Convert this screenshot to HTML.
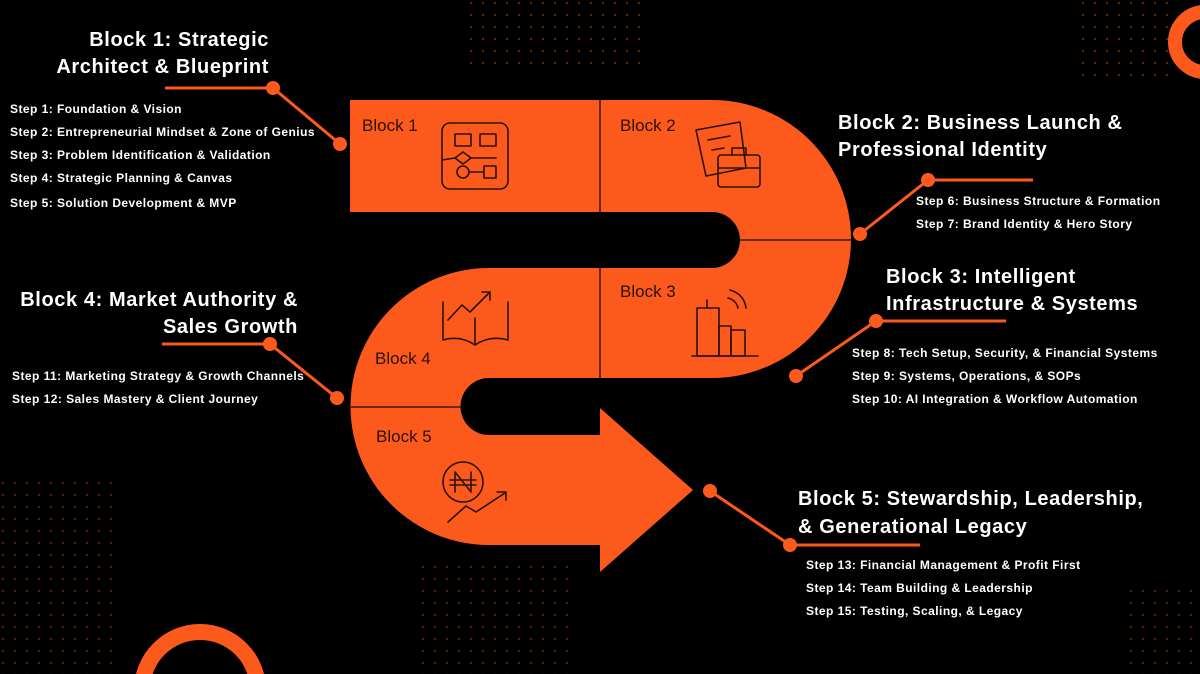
<!DOCTYPE html>
<html><head><meta charset="utf-8"><style>
html,body{margin:0;padding:0;background:#000;width:1200px;height:674px;overflow:hidden}
svg{display:block;overflow:hidden}
.h{font-family:"Liberation Sans",sans-serif;font-weight:bold;font-size:20px;letter-spacing:0.6px;fill:#fff}
.s{font-family:"Liberation Sans",sans-serif;font-weight:bold;font-size:12px;letter-spacing:0.45px;fill:#fff}
.b{font-family:"Liberation Sans",sans-serif;font-size:17px;fill:#2a1208}
.ic{fill:none;stroke:#2a1208;stroke-width:1.6;stroke-linejoin:round;stroke-linecap:round}
</style></head><body>
<svg width="1200" height="674" viewBox="0 0 1200 674">
<defs>
<pattern id="dp" width="12" height="12" patternUnits="userSpaceOnUse"><circle cx="3" cy="3" r="1.2" fill="#8a3412"/></pattern>
</defs>
<rect width="1200" height="674" fill="#000"/>
<rect x="470" y="0" width="180" height="70" fill="url(#dp)" opacity="0.7"/>
<rect x="1080" y="0" width="90" height="80" fill="url(#dp)" opacity="0.7"/>
<rect x="0" y="480" width="120" height="194" fill="url(#dp)" opacity="0.6"/>
<rect x="420" y="560" width="150" height="114" fill="url(#dp)" opacity="0.6"/>
<rect x="1120" y="590" width="80" height="84" fill="url(#dp)" opacity="0.6"/>
<circle cx="1205" cy="42" r="30" fill="none" stroke="#fc5a1c" stroke-width="14"/>
<circle cx="200" cy="690" r="58" fill="none" stroke="#fc5a1c" stroke-width="16"/>

<path d="M350,100 H712 A139,139 0 0 1 712,378 H489 A28.5,28.5 0 0 0 489,435 H600 V408 L693,490 L600,572 V545 H489 A138.5,138.5 0 0 1 489,268 H712 A28,28 0 0 0 712,212 H350 Z" fill="#fc5a1c"/>
<g stroke="#3a1808" stroke-width="1.5">
<line x1="600" y1="100" x2="600" y2="212"/><line x1="600" y1="268" x2="600" y2="378"/>
<line x1="740" y1="240" x2="851" y2="240"/><line x1="351" y1="407" x2="461" y2="407"/>
</g>
<text class="b" x="362" y="131">Block 1</text>
<text class="b" x="620" y="131">Block 2</text>
<text class="b" x="620" y="297">Block 3</text>
<text class="b" x="375" y="364">Block 4</text>
<text class="b" x="376" y="442">Block 5</text>

<g class="ic">
<rect x="442" y="123" width="66" height="66" rx="8"/>
<rect x="455" y="134" width="16" height="12"/><rect x="480" y="134" width="16" height="12"/>
<path d="M455,158 L463,152 L471,158 L463,164 Z"/><circle cx="463" cy="172" r="6"/><rect x="484" y="166" width="12" height="12"/>
<line x1="442" y1="160" x2="455" y2="158"/><line x1="471" y1="158" x2="496" y2="158"/><line x1="469" y1="172" x2="484" y2="172"/>
<path d="M696,130 L740,122 L746,168 L706,176 Z"/><path d="M708,140 L730,136"/><path d="M712,150 L724,148"/>
<rect x="718" y="155" width="42" height="32" rx="3"/><path d="M732,155 V148 H746 V155"/><line x1="718" y1="168" x2="760" y2="168"/>
<path d="M443,302 V340 Q460,335 475,345 Q490,335 508,340 V302"/><line x1="475" y1="345" x2="475" y2="318"/>
<path d="M448,320 L462,305 L470,312 L490,292"/><path d="M482,292 H490 V300"/>
<rect x="697" y="308" width="22" height="48"/><rect x="719" y="326" width="12" height="30"/><rect x="731" y="330" width="14" height="26"/>
<line x1="692" y1="356" x2="758" y2="356"/><line x1="707" y1="300" x2="707" y2="308"/>
<path d="M728,298 Q736,300 738,308"/><path d="M730,290 Q744,294 746,308"/>
<circle cx="463" cy="482" r="20"/><path d="M455,472 V492 M471,472 V492 M455,472 L471,492 M450,480 H476 M450,485 H476"/>
<path d="M448,522 L466,506 L476,512 L505,493"/><path d="M497,492 H506 V500"/>
</g>

<g stroke="#fc5a1c" stroke-width="3" fill="none">
<polyline points="165,88 273,88 340,144"/>
<polyline points="1033,180 928,180 860,234"/>
<polyline points="1006,321 876,321 796,376"/>
<polyline points="162,344 270,344 337,398"/>
<polyline points="710,491 790,545 920,545"/>
</g>
<g fill="#fc5a1c">
<circle cx="273" cy="88" r="7"/><circle cx="340" cy="144" r="7"/>
<circle cx="928" cy="180" r="7"/><circle cx="860" cy="234" r="7"/>
<circle cx="876" cy="321" r="7"/><circle cx="796" cy="376" r="7"/>
<circle cx="270" cy="344" r="7"/><circle cx="337" cy="398" r="7"/>
<circle cx="710" cy="491" r="7"/><circle cx="790" cy="545" r="7"/>
</g>

<text class="h" x="269" y="46" text-anchor="end">Block 1: Strategic</text>
<text class="h" x="269" y="73" text-anchor="end">Architect &amp; Blueprint</text>
<text class="s" x="10" y="113">Step 1: Foundation &amp; Vision</text>
<text class="s" x="10" y="136">Step 2: Entrepreneurial Mindset &amp; Zone of Genius</text>
<text class="s" x="10" y="159">Step 3: Problem Identification &amp; Validation</text>
<text class="s" x="10" y="182">Step 4: Strategic Planning &amp; Canvas</text>
<text class="s" x="10" y="207">Step 5: Solution Development &amp; MVP</text>

<text class="h" x="838" y="129">Block 2: Business Launch &amp;</text>
<text class="h" x="838" y="156">Professional Identity</text>
<text class="s" x="916" y="205">Step 6: Business Structure &amp; Formation</text>
<text class="s" x="916" y="228">Step 7: Brand Identity &amp; Hero Story</text>

<text class="h" x="886" y="283">Block 3: Intelligent</text>
<text class="h" x="886" y="310">Infrastructure &amp; Systems</text>
<text class="s" x="852" y="357">Step 8: Tech Setup, Security, &amp; Financial Systems</text>
<text class="s" x="852" y="380">Step 9: Systems, Operations, &amp; SOPs</text>
<text class="s" x="852" y="403">Step 10: AI Integration &amp; Workflow Automation</text>

<text class="h" x="298" y="306" text-anchor="end">Block 4: Market Authority &amp;</text>
<text class="h" x="298" y="333" text-anchor="end">Sales Growth</text>
<text class="s" x="12" y="380">Step 11: Marketing Strategy &amp; Growth Channels</text>
<text class="s" x="12" y="403">Step 12: Sales Mastery &amp; Client Journey</text>

<text class="h" x="798" y="505">Block 5: Stewardship, Leadership,</text>
<text class="h" x="798" y="533">&amp; Generational Legacy</text>
<text class="s" x="806" y="569">Step 13: Financial Management &amp; Profit First</text>
<text class="s" x="806" y="592">Step 14: Team Building &amp; Leadership</text>
<text class="s" x="806" y="615">Step 15: Testing, Scaling, &amp; Legacy</text>
</svg>
</body></html>
